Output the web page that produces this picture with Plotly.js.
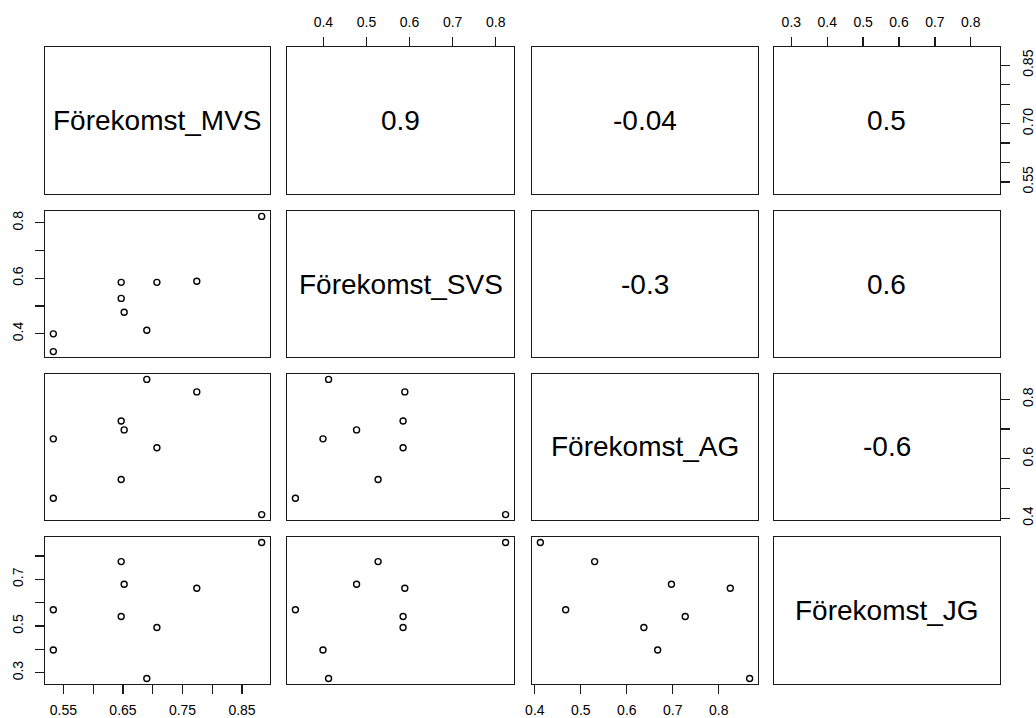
<!DOCTYPE html>
<html>
<head>
<meta charset="utf-8">
<script src="https://cdn.plot.ly/plotly-3.0.1.min.js"></script>
<style>html,body{margin:0;padding:0;background:#fff;}#plot{width:1036px;height:718px;}</style>
</head>
<body>
<div id="plot"></div>
<script>
// ---- data ----
const variableNames = ["Förekomst_MVS", "Förekomst_SVS", "Förekomst_AG", "Förekomst_JG"];
const mvs = [0.533, 0.533, 0.647, 0.652, 0.647, 0.690, 0.707, 0.774, 0.883];
const svs = [0.335, 0.399, 0.527, 0.477, 0.585, 0.412, 0.585, 0.589, 0.823];
const ag  = [0.467, 0.667, 0.530, 0.697, 0.727, 0.867, 0.637, 0.825, 0.412];
const jg  = [0.570, 0.397, 0.776, 0.679, 0.541, 0.275, 0.494, 0.662, 0.858];
// correlation labels for upper panels: [row, col, text]
const corrLabels = [
  [0, 1, "0.9"], [0, 2, "-0.04"], [0, 3, "0.5"],
  [1, 2, "-0.3"], [1, 3, "0.6"],
  [2, 3, "-0.6"]
];
// tick values / labels per variable (axes drawn in R pairs style)
const mvsTickVals = [0.55, 0.60, 0.65, 0.70, 0.75, 0.80, 0.85];
const mvsTickTextX = ["0.55", "", "0.65", "", "0.75", "", "0.85"];
const mvsTickTextY = ["0.55", "", "", "0.70", "", "", "0.85"];
const svsTickVals = [0.4, 0.5, 0.6, 0.7, 0.8];
const svsTickTextX = ["0.4", "0.5", "0.6", "0.7", "0.8"];
const svsTickTextY = ["0.4", "", "0.6", "", "0.8"];
const agTickVals = [0.4, 0.5, 0.6, 0.7, 0.8];
const agTickTextX = ["0.4", "0.5", "0.6", "0.7", "0.8"];
const agTickTextY = ["0.4", "", "0.6", "", "0.8"];
const jgTickVals = [0.3, 0.4, 0.5, 0.6, 0.7, 0.8];
const jgTickTextX = ["0.3", "0.4", "0.5", "0.6", "0.7", "0.8"];
const jgTickTextY = ["0.3", "", "0.5", "", "0.7", ""];

// ---- layout geometry ----
const W = 1036, H = 718;
const colPx = [[45, 270], [287, 514], [532, 758], [774, 1000]];
const rowPx = [[47, 194], [211, 357], [374, 520], [537, 684]];
const FONT = "Liberation Sans, Arial, Helvetica, sans-serif";

const vars = [mvs, svs, ag, jg];
const tickVals = [mvsTickVals, svsTickVals, agTickVals, jgTickVals];
const tickTextX = [mvsTickTextX, svsTickTextX, agTickTextX, jgTickTextX];
const tickTextY = [mvsTickTextY, svsTickTextY, agTickTextY, jgTickTextY];

function rng(a) {
  const mn = Math.min(...a), mx = Math.max(...a), d = mx - mn;
  return [mn - 0.04 * d, mx + 0.04 * d];
}
const ranges = vars.map(rng);

const traces = [];
const layout = {
  width: W, height: H,
  margin: {l: 0, r: 0, t: 0, b: 0},
  paper_bgcolor: "#fff", plot_bgcolor: "#fff",
  showlegend: false,
  font: {family: FONT, size: 14, color: "#000"},
  annotations: []
};

for (let r = 0; r < 4; r++) {
  for (let c = 0; c < 4; c++) {
    const k = r * 4 + c + 1;
    const xName = "xaxis" + (k === 1 ? "" : k);
    const yName = "yaxis" + (k === 1 ? "" : k);
    const xRef = "x" + (k === 1 ? "" : k);
    const yRef = "y" + (k === 1 ? "" : k);
    const xTop = (r === 0 && (c === 1 || c === 3));
    const xBottom = (r === 3 && (c === 0 || c === 2));
    const yLeft = (c === 0 && (r === 1 || r === 3));
    const yRight = (c === 3 && (r === 0 || r === 2));
    const xd = [colPx[c][0] / W, colPx[c][1] / W];
    const yd = [1 - rowPx[r][1] / H, 1 - rowPx[r][0] / H];
    layout[xName] = {
      domain: xd, anchor: yRef, range: ranges[c],
      showgrid: false, zeroline: false,
      showline: true, mirror: true, linecolor: "#1a1a1a", linewidth: 1.4,
      ticks: (xTop || xBottom) ? "outside" : "", ticklen: 9, tickwidth: 1.3, tickcolor: "#1a1a1a",
      side: xTop ? "top" : "bottom",
      showticklabels: xTop || xBottom,
      ticklabelstandoff: 4,
      tickmode: "array", tickvals: tickVals[c], ticktext: tickTextX[c],
      tickfont: {family: FONT, size: 14, color: "#000"},
      fixedrange: true
    };
    layout[yName] = {
      domain: yd, anchor: xRef, range: ranges[r],
      showgrid: false, zeroline: false,
      showline: true, mirror: true, linecolor: "#1a1a1a", linewidth: 1.4,
      ticks: (yLeft || yRight) ? "outside" : "", ticklen: 9, tickwidth: 1.3, tickcolor: "#1a1a1a",
      side: yRight ? "right" : "left",
      showticklabels: yLeft || yRight,
      ticklabelstandoff: 6,
      tickangle: -90,
      tickmode: "array", tickvals: tickVals[r], ticktext: tickTextY[r],
      tickfont: {family: FONT, size: 14, color: "#000"},
      fixedrange: true
    };
    const cx = (xd[0] + xd[1]) / 2, cy = (yd[0] + yd[1]) / 2;
    if (r > c) {
      traces.push({
        type: "scatter", mode: "markers",
        x: vars[c], y: vars[r], xaxis: xRef, yaxis: yRef,
        marker: {symbol: "circle-open", size: 6, color: "#000", line: {width: 1.4, color: "#000"}},
        hoverinfo: "skip"
      });
    } else {
      traces.push({type: "scatter", mode: "markers", x: [], y: [], xaxis: xRef, yaxis: yRef, hoverinfo: "skip"});
      let txt;
      if (r === c) txt = variableNames[r];
      else txt = corrLabels.find(e => e[0] === r && e[1] === c)[2];
      layout.annotations.push({
        xref: "paper", yref: "paper", x: cx, y: cy,
        text: txt, showarrow: false, xanchor: "center", yanchor: "middle",
        font: {family: FONT, size: 28, color: "#000"}
      });
    }
  }
}

Plotly.newPlot("plot", traces, layout, {staticPlot: true, displayModeBar: false});
</script>
</body>
</html>
